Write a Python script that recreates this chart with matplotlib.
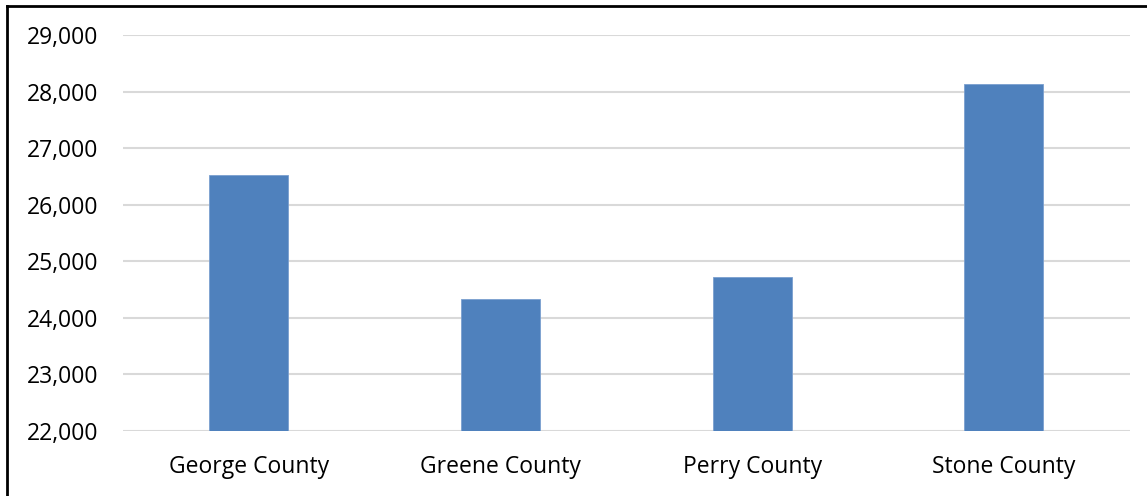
import matplotlib.pyplot as plt
from matplotlib.lines import Line2D
from matplotlib.ticker import FuncFormatter

counties = ["George County", "Greene County", "Perry County", "Stone County"]
values = [26525, 24330, 24717, 28134]
y_ticks = [22000, 23000, 24000, 25000, 26000, 27000, 28000, 29000]

plt.rcParams["font.family"] = ["Open Sans", "DejaVu Sans"]

fig = plt.figure(figsize=(11.47, 4.96), dpi=100)
ax = fig.add_axes([0.1072, 0.131, 0.8778, 0.7984])

x = range(len(counties))
ax.bar(x, values, width=0.314, color="#4f81bd", edgecolor="#7a9fcf", linewidth=0.6, zorder=3)

ax.set_xlim(-0.5, len(counties) - 0.5)
ax.set_ylim(22000, 29000)
ax.set_yticks(y_ticks)
ax.yaxis.set_major_formatter(FuncFormatter(lambda v, _: f"{v:,.0f}"))
ax.set_xticks(list(x))
ax.set_xticklabels(counties)
ax.tick_params(axis="both", length=0, labelsize=16.5, colors="black")
ax.tick_params(axis="y", pad=18)
ax.tick_params(axis="x", pad=17)

ax.grid(axis="y", color="#d9d9d9", linewidth=1.5, zorder=0)
ax.set_axisbelow(True)
for spine in ax.spines.values():
    spine.set_visible(False)

# outer frame: only top and left edges are visible
fig.add_artist(Line2D([0.0062, 1.0], [0.9888, 0.9888], transform=fig.transFigure, color="black", linewidth=2))
fig.add_artist(Line2D([0.0062, 0.0062], [0.0, 0.9888], transform=fig.transFigure, color="black", linewidth=2))

fig.savefig("out.png", dpi=100, facecolor="white")
